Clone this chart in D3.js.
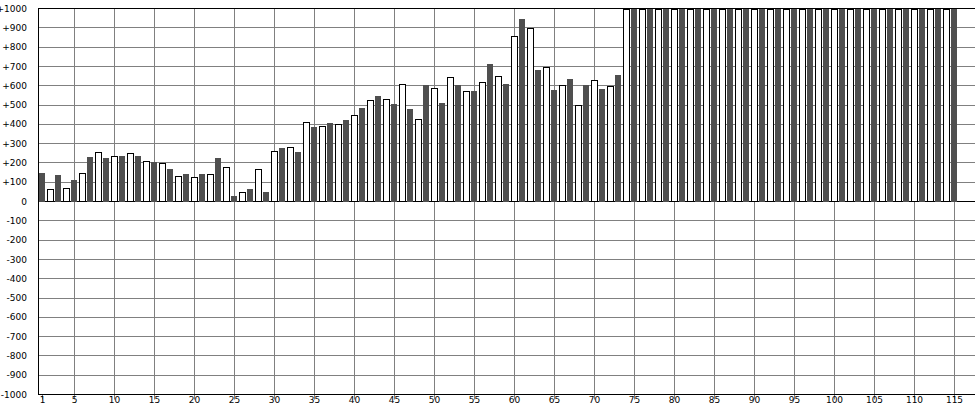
<!DOCTYPE html>
<html>
<head>
<meta charset="utf-8">
<script src="https://cdn.jsdelivr.net/npm/d3@7"></script>
<style>
  html, body { margin: 0; padding: 0; background: #fff; overflow: hidden; }
  svg { display: block; }
  text { font-family: "DejaVu Sans", Verdana, sans-serif; font-size: 9px; fill: #000; }
</style>
</head>
<body>
<svg id="chart" width="975" height="405"></svg>
<script>
// ---- data ----
const categories = [
  1,2,3,4,5,6,7,8,9,10,11,12,13,14,15,16,17,18,19,20,
  21,22,23,24,25,26,27,28,29,30,31,32,33,34,35,36,37,38,39,40,
  41,42,43,44,45,46,47,48,49,50,51,52,53,54,55,56,57,58,59,60,
  61,62,63,64,65,66,67,68,69,70,71,72,73,74,75,76,77,78,79,80,
  81,82,83,84,85,86,87,88,89,90,91,92,93,94,95,96,97,98,99,100,
  101,102,103,104,105,106,107,108,109,110,111,112,113,114,115
];
const values = [
  150,65,135,70,110,150,230,255,225,235,235,250,235,210,205,200,170,130,140,125,
  140,140,225,180,30,50,65,170,50,260,275,280,255,410,385,390,405,400,420,450,
  485,525,545,530,505,610,480,425,605,590,510,645,605,575,570,620,710,650,610,860,
  945,900,680,695,580,605,635,500,605,630,585,600,655,1000,1000,1000,1000,1000,1000,1000,
  1000,1000,1000,1000,1000,1000,1000,1000,1000,1000,1000,1000,1000,1000,1000,1000,1000,1000,1000,1000,
  1000,1000,1000,1000,1000,1000,1000,1000,1000,1000,1000,1000,1000,1000,1000
];
const yTickValues = [1000,900,800,700,600,500,400,300,200,100,0,-100,-200,-300,-400,-500,-600,-700,-800,-900,-1000];
const xTickLabels = [1,5,10,15,20,25,30,35,40,45,50,55,60,65,70,75,80,85,90,95,100,105,110,115];

(function () {
// ---- layout ----
const W = 975, H = 405;
const plotLeft = 38, plotTop = 8.5, plotBottom = 394.5;
const svg = d3.select("#chart");

const x = d3.scaleBand().domain(categories).range([38, 38 + categories.length * 8])
  .paddingInner(0.25).paddingOuter(0.125);
const y = d3.scaleLinear().domain([-1000, 1000]).range([plotBottom, plotTop]);
const cx = c => x(c) + x.bandwidth() / 2;
const crisp = v => Math.round(v - 0.5) + 0.5;

const gridColor = "#808080";

// horizontal gridlines
svg.append("g").selectAll("line").data(yTickValues.filter(v => v !== 1000 && v !== -1000 && v !== 0))
  .join("line")
  .attr("x1", plotLeft).attr("x2", W)
  .attr("y1", d => crisp(y(d))).attr("y2", d => crisp(y(d)))
  .attr("stroke", gridColor).attr("stroke-width", 1);

// vertical gridlines (except category 1)
svg.append("g").selectAll("line").data(xTickLabels.filter(v => v !== 1))
  .join("line")
  .attr("x1", d => Math.round(cx(d)) + 0.5).attr("x2", d => Math.round(cx(d)) + 0.5)
  .attr("y1", plotTop).attr("y2", plotBottom)
  .attr("stroke", gridColor).attr("stroke-width", 1);

// x tick marks below axis
svg.append("g").selectAll("line").data(xTickLabels)
  .join("line")
  .attr("x1", d => Math.round(cx(d)) + 0.5).attr("x2", d => Math.round(cx(d)) + 0.5)
  .attr("y1", plotBottom).attr("y2", plotBottom + 5)
  .attr("stroke", gridColor).attr("stroke-width", 1);

// zero line
svg.append("line")
  .attr("x1", plotLeft).attr("x2", W)
  .attr("y1", crisp(y(0))).attr("y2", crisp(y(0)))
  .attr("stroke", "#000").attr("stroke-width", 1);

// bars
const data = categories.map((c, i) => ({ c, v: values[i], dark: c % 2 === 1 }));
const y0 = crisp(y(0));
svg.append("g").selectAll("rect").data(data)
  .join("rect")
  .attr("x", d => d.dark ? x(d.c) : x(d.c) + 0.5)
  .attr("width", x.bandwidth())
  .attr("y", d => d.dark ? Math.round(y(d.v)) : Math.round(y(d.v)) + 0.5)
  .attr("height", d => d.dark ? (y0 + 0.5 - Math.round(y(d.v))) : (y0 - Math.round(y(d.v)) - 0.5))
  .attr("fill", d => d.dark ? "#4f4f4f" : "#ffffff")
  .attr("stroke", d => d.dark ? "none" : "#000")
  .attr("stroke-width", 1);

// frame: top border, left axis, bottom axis
svg.append("line").attr("x1", plotLeft).attr("x2", W).attr("y1", plotTop).attr("y2", plotTop)
  .attr("stroke", "#000").attr("stroke-width", 1);
svg.append("line").attr("x1", plotLeft + 0.5).attr("x2", plotLeft + 0.5).attr("y1", plotTop).attr("y2", plotBottom)
  .attr("stroke", "#000").attr("stroke-width", 1);
svg.append("line").attr("x1", plotLeft).attr("x2", W).attr("y1", plotBottom).attr("y2", plotBottom)
  .attr("stroke", "#000").attr("stroke-width", 1);

// y labels
const fmt = v => v > 0 ? "+" + v : (v < 0 ? "-" + Math.abs(v) : "0");
svg.append("g").selectAll("text").data(yTickValues)
  .join("text")
  .attr("x", 27).attr("y", d => y(d))
  .attr("text-anchor", "end").attr("dy", "0.35em")
  .text(fmt);

// x labels
svg.append("g").selectAll("text").data(xTickLabels)
  .join("text")
  .attr("x", d => cx(d) + 0.5).attr("y", 403)
  .attr("text-anchor", "middle")
  .text(d => d);
})();
</script>
</body>
</html>
